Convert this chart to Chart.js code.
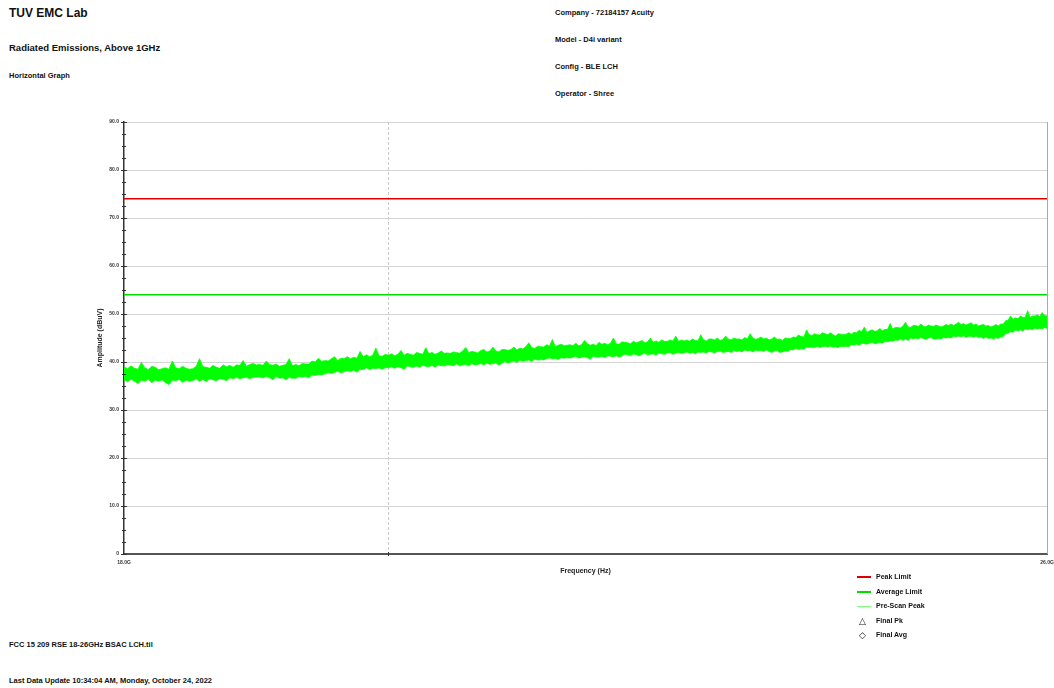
<!DOCTYPE html>
<html>
<head>
<meta charset="utf-8">
<script src="https://cdn.jsdelivr.net/npm/chart.js@4/dist/chart.umd.min.js"></script>
<style>
  html, body { margin: 0; padding: 0; background: #fff; }
  body { width: 1054px; height: 688px; position: relative; overflow: hidden;
         font-family: "Liberation Sans", Arial, sans-serif; font-weight: bold; color: #111; }
  #chart { position: absolute; left: 0; top: 0; }
  .txt { position: absolute; white-space: nowrap; }
  .legend { position: absolute; left: 857px; top: 570px; font-size: 7px; }
  .legend .row { position: relative; height: 14.5px; line-height: 14px; white-space: nowrap; }
  .legend .sample { position: absolute; left: 0; width: 14px; }
  .legend .label { position: absolute; left: 19px; white-space: nowrap; }
  .legend .sym { position: absolute; left: 2px; font-size: 9px; font-weight: normal; font-family: "DejaVu Sans"; }
</style>
</head>
<body>
<div class="txt" style="left:9px;top:6px;font-size:12px;line-height:14px;">TUV EMC Lab</div>
<div class="txt" style="left:9px;top:42px;font-size:9.5px;line-height:12px;">Radiated Emissions, Above 1GHz</div>
<div class="txt" style="left:9px;top:71px;font-size:7.5px;line-height:10px;">Horizontal Graph</div>

<div class="txt" style="left:555px;top:8px;font-size:7.5px;line-height:10px;">Company - 72184157 Acuity</div>
<div class="txt" style="left:555px;top:35px;font-size:7.5px;line-height:10px;">Model - D4i variant</div>
<div class="txt" style="left:555px;top:62px;font-size:7.5px;line-height:10px;">Config - BLE LCH</div>
<div class="txt" style="left:555px;top:89px;font-size:7.5px;line-height:10px;">Operator - Shree</div>

<div class="txt" style="left:9px;top:640px;font-size:7.5px;line-height:10px;">FCC 15 209 RSE 18-26GHz BSAC LCH.til</div>
<div class="txt" style="left:9px;top:676px;font-size:7.5px;line-height:10px;">Last Data Update 10:34:04 AM, Monday, October 24, 2022</div>

<canvas id="chart" width="1054" height="688"></canvas>

<div class="legend">
  <div class="row"><span class="sample" style="top:6px;height:1.5px;background:#dd0000;"></span><span class="label">Peak Limit</span></div>
  <div class="row"><span class="sample" style="top:6px;height:2px;background:#00dd00;"></span><span class="label">Average Limit</span></div>
  <div class="row"><span class="sample" style="top:7px;height:1px;background:#7fff7f;"></span><span class="label">Pre-Scan Peak</span></div>
  <div class="row"><span class="sym">△</span><span class="label">Final Pk</span></div>
  <div class="row"><span class="sym">◇</span><span class="label">Final Avg</span></div>
</div>

<script>
// Sweep frequencies, GHz
const freqGHz = [
  18.000, 18.025, 18.050, 18.075, 18.100, 18.125, 18.150, 18.175, 18.200, 18.225, 18.250, 18.275, 18.300, 18.325, 18.350, 18.375, 18.400, 18.425, 18.450, 18.475,
  18.500, 18.525, 18.550, 18.575, 18.600, 18.625, 18.650, 18.675, 18.700, 18.725, 18.750, 18.775, 18.800, 18.825, 18.850, 18.875, 18.900, 18.925, 18.950, 18.975,
  19.000, 19.025, 19.050, 19.075, 19.100, 19.125, 19.150, 19.175, 19.200, 19.225, 19.250, 19.275, 19.300, 19.325, 19.350, 19.375, 19.400, 19.425, 19.450, 19.475,
  19.500, 19.525, 19.550, 19.575, 19.600, 19.625, 19.650, 19.675, 19.700, 19.725, 19.750, 19.775, 19.800, 19.825, 19.850, 19.875, 19.900, 19.925, 19.950, 19.975,
  20.000, 20.025, 20.050, 20.075, 20.100, 20.125, 20.150, 20.175, 20.200, 20.225, 20.250, 20.275, 20.300, 20.325, 20.350, 20.375, 20.400, 20.425, 20.450, 20.475,
  20.500, 20.525, 20.550, 20.575, 20.600, 20.625, 20.650, 20.675, 20.700, 20.725, 20.750, 20.775, 20.800, 20.825, 20.850, 20.875, 20.900, 20.925, 20.950, 20.975,
  21.000, 21.025, 21.050, 21.075, 21.100, 21.125, 21.150, 21.175, 21.200, 21.225, 21.250, 21.275, 21.300, 21.325, 21.350, 21.375, 21.400, 21.425, 21.450, 21.475,
  21.500, 21.525, 21.550, 21.575, 21.600, 21.625, 21.650, 21.675, 21.700, 21.725, 21.750, 21.775, 21.800, 21.825, 21.850, 21.875, 21.900, 21.925, 21.950, 21.975,
  22.000, 22.025, 22.050, 22.075, 22.100, 22.125, 22.150, 22.175, 22.200, 22.225, 22.250, 22.275, 22.300, 22.325, 22.350, 22.375, 22.400, 22.425, 22.450, 22.475,
  22.500, 22.525, 22.550, 22.575, 22.600, 22.625, 22.650, 22.675, 22.700, 22.725, 22.750, 22.775, 22.800, 22.825, 22.850, 22.875, 22.900, 22.925, 22.950, 22.975,
  23.000, 23.025, 23.050, 23.075, 23.100, 23.125, 23.150, 23.175, 23.200, 23.225, 23.250, 23.275, 23.300, 23.325, 23.350, 23.375, 23.400, 23.425, 23.450, 23.475,
  23.500, 23.525, 23.550, 23.575, 23.600, 23.625, 23.650, 23.675, 23.700, 23.725, 23.750, 23.775, 23.800, 23.825, 23.850, 23.875, 23.900, 23.925, 23.950, 23.975,
  24.000, 24.025, 24.050, 24.075, 24.100, 24.125, 24.150, 24.175, 24.200, 24.225, 24.250, 24.275, 24.300, 24.325, 24.350, 24.375, 24.400, 24.425, 24.450, 24.475,
  24.500, 24.525, 24.550, 24.575, 24.600, 24.625, 24.650, 24.675, 24.700, 24.725, 24.750, 24.775, 24.800, 24.825, 24.850, 24.875, 24.900, 24.925, 24.950, 24.975,
  25.000, 25.025, 25.050, 25.075, 25.100, 25.125, 25.150, 25.175, 25.200, 25.225, 25.250, 25.275, 25.300, 25.325, 25.350, 25.375, 25.400, 25.425, 25.450, 25.475,
  25.500, 25.525, 25.550, 25.575, 25.600, 25.625, 25.650, 25.675, 25.700, 25.725, 25.750, 25.775, 25.800, 25.825, 25.850, 25.875, 25.900, 25.925, 25.950, 25.975,
  26.000
];

// Pre-scan peak trace: top and bottom edge of the noise band, dBuV
const preScanHigh = [
  39.0, 38.6, 39.2, 38.7, 38.5, 39.9, 38.8, 38.4, 39.1, 38.9, 38.4, 38.6, 38.8, 38.5, 40.2, 38.8, 38.6, 39.1, 38.7, 38.5,
  38.6, 39.1, 40.7, 39.0, 38.9, 38.7, 39.3, 38.9, 38.7, 39.4, 39.0, 39.3, 38.9, 39.4, 39.3, 40.3, 39.1, 39.5, 39.7, 39.4,
  39.5, 39.3, 40.2, 39.5, 39.3, 39.6, 39.1, 39.3, 39.5, 40.7, 39.2, 39.5, 39.2, 39.7, 39.6, 39.6, 40.2, 40.0, 40.8, 40.1,
  40.3, 40.2, 40.7, 41.1, 40.3, 40.8, 40.7, 41.1, 40.7, 41.0, 40.8, 42.2, 41.1, 41.5, 41.1, 41.4, 42.9, 41.3, 41.2, 41.6,
  41.4, 41.7, 41.3, 41.6, 42.4, 41.4, 41.8, 41.6, 41.4, 42.0, 41.8, 41.6, 43.0, 41.7, 42.0, 41.6, 41.9, 42.3, 41.8, 41.9,
  41.8, 42.1, 42.0, 41.8, 42.3, 43.0, 42.0, 42.2, 42.1, 41.9, 42.4, 42.6, 42.1, 42.3, 43.1, 42.3, 42.1, 42.6, 42.6, 42.4,
  42.6, 43.1, 42.5, 42.9, 42.7, 43.2, 44.0, 43.0, 42.8, 43.3, 43.2, 43.1, 43.6, 43.3, 44.7, 43.2, 43.5, 43.7, 43.4, 43.5,
  43.6, 43.4, 43.9, 43.4, 43.6, 44.5, 43.8, 43.5, 43.7, 43.4, 44.1, 43.7, 43.9, 43.6, 43.9, 45.0, 43.8, 43.7, 44.2, 44.1,
  44.0, 43.8, 44.3, 44.0, 44.2, 44.5, 44.0, 44.2, 45.0, 44.1, 44.4, 44.1, 44.6, 44.3, 44.3, 44.6, 44.4, 45.4, 44.3, 44.6,
  44.4, 44.6, 44.3, 44.8, 44.5, 44.4, 45.7, 44.6, 44.4, 44.8, 44.8, 44.6, 45.0, 44.5, 44.7, 45.4, 44.8, 44.6, 45.0, 44.8,
  44.8, 44.6, 45.1, 44.8, 45.9, 45.0, 44.7, 44.9, 45.2, 44.8, 45.0, 44.6, 44.8, 45.2, 44.7, 44.8, 44.5, 45.0, 44.9, 44.9,
  45.2, 45.1, 45.6, 45.3, 45.2, 46.7, 45.7, 45.5, 45.9, 45.7, 45.6, 46.1, 45.9, 45.7, 46.1, 45.7, 45.4, 45.9, 45.8, 45.7,
  45.8, 46.1, 45.8, 46.2, 46.1, 46.6, 46.3, 47.3, 46.2, 46.5, 46.7, 46.4, 46.5, 47.0, 46.5, 46.8, 46.8, 48.0, 46.9, 47.2,
  47.2, 47.1, 47.5, 48.3, 47.3, 47.2, 47.6, 47.6, 47.4, 47.9, 47.5, 47.3, 47.7, 47.5, 47.4, 47.7, 47.5, 47.3, 47.5, 47.8,
  47.6, 47.9, 47.6, 47.9, 48.3, 47.8, 48.0, 47.7, 47.9, 48.2, 47.7, 47.9, 47.5, 47.7, 47.8, 47.5, 47.6, 47.3, 47.5, 47.8,
  47.5, 47.9, 47.9, 48.6, 48.7, 49.6, 48.9, 49.2, 49.0, 49.6, 49.3, 49.3, 50.7, 49.3, 49.6, 49.6, 49.8, 49.5, 50.3, 49.7,
  49.6
];
const preScanLow = [
  36.3, 35.9, 36.4, 36.0, 35.5, 36.2, 36.0, 36.4, 35.7, 36.2, 36.0, 36.3, 35.7, 35.3, 36.2, 36.1, 36.4, 35.8, 36.2, 36.0,
  36.1, 36.5, 36.0, 36.4, 35.9, 36.5, 36.3, 36.1, 36.5, 36.4, 36.1, 36.7, 36.5, 36.8, 36.5, 36.7, 36.8, 36.5, 36.8, 36.8,
  36.9, 36.7, 37.0, 36.7, 36.3, 37.0, 36.6, 36.7, 36.3, 36.8, 36.6, 36.6, 37.0, 36.8, 37.0, 36.7, 37.3, 37.2, 37.4, 37.3,
  37.5, 37.8, 37.6, 37.8, 38.1, 37.7, 38.0, 38.2, 38.0, 38.3, 37.9, 38.5, 38.4, 38.8, 38.4, 38.7, 38.6, 38.8, 38.5, 38.8,
  38.8, 39.0, 38.7, 39.0, 38.8, 38.5, 39.2, 39.0, 38.9, 39.1, 38.9, 39.3, 39.1, 39.0, 39.3, 38.9, 39.4, 39.2, 39.2, 39.4,
  39.4, 39.2, 39.6, 39.2, 39.4, 39.5, 39.2, 39.7, 39.4, 39.5, 39.7, 39.4, 39.8, 39.5, 39.7, 39.8, 39.3, 39.8, 40.1, 39.8,
  40.0, 40.2, 39.9, 40.4, 40.1, 40.3, 40.4, 40.1, 40.6, 40.4, 40.5, 40.4, 40.7, 40.9, 40.6, 40.8, 40.5, 40.9, 40.8, 40.9,
  40.8, 41.0, 41.2, 40.8, 41.0, 41.1, 40.9, 40.6, 41.2, 41.0, 41.0, 41.2, 40.9, 41.3, 41.2, 41.1, 41.3, 41.0, 41.3, 41.6,
  41.5, 41.3, 41.7, 41.5, 41.3, 41.6, 41.8, 41.5, 41.6, 41.7, 41.4, 41.9, 41.7, 41.6, 41.9, 42.0, 41.6, 41.8, 42.0, 41.8,
  41.9, 42.1, 41.8, 42.0, 41.7, 42.1, 42.0, 42.1, 41.9, 42.2, 42.1, 41.9, 42.2, 42.3, 42.0, 42.1, 42.2, 42.0, 42.4, 42.2,
  42.3, 42.1, 42.5, 42.3, 42.4, 42.1, 42.5, 42.3, 42.4, 42.2, 42.5, 42.2, 42.0, 42.3, 42.4, 42.0, 42.1, 42.3, 42.2, 42.6,
  42.5, 42.8, 42.6, 42.8, 42.6, 43.1, 43.0, 43.1, 43.0, 43.3, 43.0, 43.2, 43.3, 43.1, 43.3, 43.1, 43.1, 43.0, 43.3, 43.2,
  43.3, 43.2, 43.6, 43.5, 43.7, 43.5, 43.9, 43.8, 43.7, 43.9, 44.1, 43.8, 43.9, 44.1, 43.9, 44.3, 44.2, 44.4, 44.3, 44.6,
  44.5, 44.8, 44.5, 44.8, 44.5, 45.0, 44.8, 45.0, 44.8, 45.1, 44.9, 44.7, 45.0, 45.1, 44.8, 44.8, 44.9, 44.8, 45.1, 45.0,
  45.1, 45.0, 45.4, 45.2, 45.4, 45.2, 45.5, 45.1, 45.3, 45.4, 45.1, 45.4, 45.1, 45.2, 44.9, 45.2, 44.9, 45.0, 44.8, 45.1,
  44.9, 45.2, 45.3, 45.9, 46.0, 46.3, 46.2, 46.6, 46.5, 46.7, 46.4, 46.9, 46.7, 46.9, 46.7, 47.1, 46.9, 47.0, 46.9, 47.2,
  47.0
];

// FCC 15.209 limits above 1 GHz, dBuV
const peakLimit = 74;
const averageLimit = 54;

const freqStart = 18;
const freqStop = 26;
const freqTicks = [18, 20, 26];
const ampMin = 0;
const ampMax = 90;

const limitLine = v => [{ x: freqStart, y: v }, { x: freqStop, y: v }];
const trace = arr => freqGHz.map((f, i) => ({ x: f, y: arr[i] }));

// axis ticks crossing the axis line, and the right frame edge
const axisMarks = {
  id: 'axisMarks',
  afterDraw(chart) {
    const { ctx, chartArea: a, scales: { x, y } } = chart;
    ctx.save();
    ctx.strokeStyle = '#333';
    ctx.lineWidth = 1;
    ctx.beginPath();
    for (let v = ampMin; v <= ampMax; v += 2.5) {
      const py = Math.round(y.getPixelForValue(v)) + 0.5;
      const major = v % 10 === 0;
      ctx.moveTo(a.left - (major ? 3 : 2), py);
      ctx.lineTo(a.left + (major ? 3 : 2), py);
    }
    const px = Math.round(x.getPixelForValue(20)) + 0.5;
    ctx.moveTo(px, a.bottom - 2);
    ctx.lineTo(px, a.bottom + 2);
    ctx.stroke();
    ctx.strokeStyle = '#aaa';
    ctx.beginPath();
    ctx.moveTo(a.right + 0.5, a.top);
    ctx.lineTo(a.right + 0.5, a.bottom);
    ctx.stroke();
    ctx.restore();
  }
};

new Chart(document.getElementById('chart'), {
  type: 'line',
  data: {
    datasets: [
      { label: 'Peak Limit', data: limitLine(peakLimit), borderColor: '#dd0000', borderWidth: 1.5 },
      { label: 'Average Limit', data: limitLine(averageLimit), borderColor: '#00dd00', borderWidth: 1.5 },
      { label: 'Pre-Scan Peak', data: trace(preScanHigh), borderColor: 'rgba(0,255,0,0.75)', borderWidth: 1, fill: false },
      { label: 'Pre-Scan Peak low', data: trace(preScanLow), borderColor: 'rgba(0,255,0,0.75)', borderWidth: 1,
        fill: '-1', backgroundColor: '#00ff00' },
    ],
  },
  options: {
    responsive: false,
    animation: false,
    devicePixelRatio: 1,
    elements: { point: { radius: 0 }, line: { tension: 0 } },
    layout: { padding: { left: 94, top: 122, right: 7, bottom: 108 } },
    plugins: { legend: { display: false }, tooltip: { enabled: false } },
    scales: {
      x: {
        type: 'logarithmic',
        min: freqStart,
        max: freqStop,
        afterBuildTicks: s => { s.ticks = freqTicks.map(v => ({ value: v })); },
        // the end labels may overhang the plot edges
        afterFit: s => { s.height = 26; s.paddingLeft = 0; s.paddingRight = 0; },
        ticks: {
          autoSkip: false,
          maxRotation: 0,
          padding: 6,
          color: '#333',
          font: { family: 'Liberation Sans', size: 5, weight: 'bold' },
          callback: v => (v === 20 ? '' : v.toFixed(1) + 'G'),
        },
        grid: {
          drawTicks: false,
          color: c => (c.tick && c.tick.value === 20 ? '#c8c8c8' : 'rgba(0,0,0,0)'),
        },
        border: { color: '#555', width: 2, dash: [3, 2] },
        title: {
          display: true,
          text: 'Frequency (Hz)',
          color: '#222',
          padding: { top: 0, bottom: 5 },
          font: { family: 'Liberation Sans', size: 7, weight: 'bold' },
        },
      },
      y: {
        min: ampMin,
        max: ampMax,
        afterFit: s => { s.width = 30; s.paddingTop = 0; s.paddingBottom = 0; },
        ticks: {
          stepSize: 10,
          padding: 5,
          color: '#333',
          font: { family: 'Liberation Sans', size: 5, weight: 'bold' },
          callback: v => (v === 0 ? '0' : v.toFixed(1)),
        },
        grid: { drawTicks: false, color: '#d4d4d4', lineWidth: 1 },
        border: { color: '#333', width: 1.5 },
        title: {
          display: true,
          text: 'Amplitude (dBuV)',
          color: '#222',
          padding: { top: 2, bottom: 0 },
          font: { family: 'Liberation Sans', size: 7, weight: 'bold' },
        },
      },
    },
  },
  plugins: [axisMarks],
});
</script>
</body>
</html>
